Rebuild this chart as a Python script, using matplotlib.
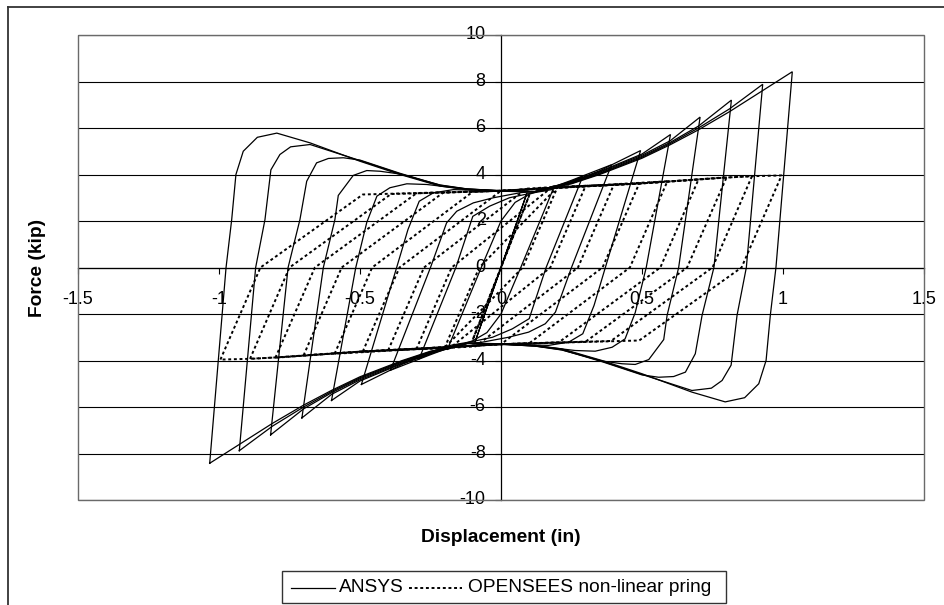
import numpy as np
import matplotlib
matplotlib.use("Agg")
import matplotlib.pyplot as plt
import matplotlib.transforms as mtransforms
from matplotlib.lines import Line2D
from matplotlib.patches import Rectangle

plt.rcParams['font.family'] = ['Liberation Sans', 'DejaVu Sans']
plt.rcParams['axes.unicode_minus'] = False

# Axis ticks and labels
x_ticks = [-1.5, -1.0, -0.5, 0.0, 0.5, 1.0, 1.5]
x_tick_labels = ['-1.5', '-1', '-0.5', '0', '0.5', '1', '1.5']
y_ticks = [-10, -8, -6, -4, -2, 0, 2, 4, 6, 8, 10]
y_tick_labels = ['-10', '-8', '-6', '-4', '-2', '0', '2', '4', '6', '8', '10']

series_names = ['ANSYS', 'OPENSEES non-linear pring']

# ANSYS: rising branch of each cycle (negative peak -> positive peak), in, kip.
# The falling branch is the point-symmetric image of the rising one.
ansys_up_x = [
    [-0.092, 0.092],
    [-0.19, -0.07, 0.0, 0.05, 0.10, 0.19],
    [-0.29, -0.16, -0.10, -0.04, 0.03, 0.10, 0.18, 0.29],
    [-0.392, -0.25, -0.193, -0.157, -0.098, -0.027, 0.07, 0.15, 0.25, 0.392],
    [-0.495, -0.37, -0.33, -0.29, -0.24, -0.169, -0.10, 0.0, 0.12, 0.25, 0.35, 0.495],
    [-0.601, -0.515, -0.476, -0.44, -0.394, -0.334, -0.263, -0.20, -0.12, 0.0, 0.12,
     0.25, 0.35, 0.50, 0.601],
    [-0.706, -0.63, -0.589, -0.577, -0.524, -0.476, -0.429, -0.358, -0.216, -0.12, 0.0,
     0.12, 0.25, 0.35, 0.50, 0.60, 0.706],
    [-0.817, -0.755, -0.713, -0.689, -0.654, -0.612, -0.559, -0.50, -0.358, -0.216,
     -0.12, 0.0, 0.12, 0.25, 0.35, 0.50, 0.60, 0.70, 0.817],
    [-0.928, -0.87, -0.837, -0.816, -0.784, -0.746, -0.677, -0.50, -0.358, -0.216,
     -0.12, 0.0, 0.12, 0.25, 0.35, 0.50, 0.60, 0.70, 0.81, 0.928],
    [-1.033, -0.975, -0.955, -0.94, -0.914, -0.864, -0.795, -0.677, -0.50, -0.358,
     -0.216, -0.12, 0.0, 0.12, 0.25, 0.35, 0.50, 0.60, 0.70, 0.81, 1.033],
]
ansys_up_f = [
    [-3.2, 3.2],
    [-3.52, 0.0, 2.0, 2.8, 3.15, 3.52],
    [-3.92, 0.0, 2.2, 2.64, 3.0, 3.18, 3.35, 3.92],
    [-4.42, 0.0, 1.92, 2.42, 2.78, 3.0, 3.22, 3.3, 3.75, 4.42],
    [-5.03, 0.0, 1.63, 2.85, 3.21, 3.35, 3.33, 3.3, 3.27, 3.7, 4.16, 5.03],
    [-5.72, 0.0, 1.94, 3.07, 3.43, 3.6, 3.57, 3.48, 3.38, 3.3, 3.26, 3.68, 4.13, 4.88, 5.72],
    [-6.47, 0.0, 2.06, 3.1, 3.96, 4.17, 4.14, 4.02, 3.55, 3.38, 3.3, 3.26, 3.66, 4.1,
     4.83, 5.45, 6.47],
    [-7.2, 0.0, 2.06, 3.71, 4.5, 4.69, 4.72, 4.62, 4.05, 3.54, 3.37, 3.3, 3.26, 3.64,
     4.06, 4.78, 5.38, 6.08, 7.2],
    [-7.88, 0.0, 2.06, 4.2, 4.86, 5.19, 5.29, 4.6, 4.03, 3.52, 3.36, 3.29, 3.26, 3.62,
     4.03, 4.74, 5.33, 6.0, 6.82, 7.88],
    [-8.42, 0.0, 2.06, 4.0, 5.0, 5.6, 5.78, 5.36, 4.57, 4.0, 3.5, 3.35, 3.28, 3.25, 3.6,
     4.0, 4.7, 5.28, 5.92, 6.7, 8.42],
]

# OPENSEES: rising branch of each cycle (elastic unloading, pinched reloading,
# then along the yield plateau), in, kip.
ops_up_x = [
    [-0.10, 0.10],
    [-0.20, -0.077, 0.20],
    [-0.30, -0.175, 0.18, 0.30],
    [-0.40, -0.273, 0.09, 0.20, 0.40],
    [-0.49, -0.36, 0.0, 0.30, 0.49],
    [-0.59, -0.457, -0.10, 0.0, 0.30, 0.59],
    [-0.70, -0.565, -0.205, 0.0, 0.50, 0.70],
    [-0.80, -0.66, -0.30, 0.0, 0.50, 0.80],
    [-0.89, -0.75, -0.39, 0.0, 0.50, 0.80, 0.89],
    [-0.995, -0.853, -0.49, 0.0, 0.50, 0.80, 0.90, 0.995],
]
ops_up_f = [
    [-3.1, 3.1],
    [-3.45, 0.0, 3.45],
    [-3.51, 0.0, 3.45, 3.51],
    [-3.56, 0.0, 3.39, 3.47, 3.56],
    [-3.61, 0.0, 3.3, 3.51, 3.61],
    [-3.71, 0.0, 3.26, 3.3, 3.51, 3.71],
    [-3.78, 0.0, 3.22, 3.3, 3.62, 3.78],
    [-3.88, 0.0, 3.19, 3.3, 3.62, 3.88],
    [-3.93, 0.0, 3.16, 3.3, 3.62, 3.87, 3.93],
    [-3.96, 0.0, 3.14, 3.3, 3.62, 3.87, 3.93, 3.96],
]

W, H = 944, 605
fig = plt.figure(figsize=(W / 100, H / 100), dpi=100)
fig.patch.set_facecolor('white')

# plot area in pixels: left 78, right 924, top 35, bottom 500
ax = fig.add_axes([78 / W, (H - 500) / H, 846 / W, 465 / H])
ax.set_xlim(-1.5, 1.5)
ax.set_ylim(-10, 10)

solid_style = dict(color='black', lw=0.9, solid_joinstyle='miter')
dot_style = dict(color='black', lw=1.4, linestyle=(0, (1.5, 1.4)))


def closed_loop(up_x, up_f):
    ux = np.asarray(up_x, float)
    uf = np.asarray(up_f, float)
    return np.concatenate([ux, -ux]), np.concatenate([uf, -uf])


for ux, uf in zip(ansys_up_x, ansys_up_f):
    lx, lf = closed_loop(ux, uf)
    ax.plot(lx, lf, zorder=3, **solid_style)

for ux, uf in zip(ops_up_x, ops_up_f):
    lx, lf = closed_loop(ux, uf)
    ax.plot(lx, lf, zorder=4, **dot_style)

# axes crossing at the origin
for side in ('top', 'right'):
    ax.spines[side].set_visible(False)
ax.spines['left'].set_position(('data', 0))
ax.spines['bottom'].set_position(('data', 0))
ax.spines['left'].set_linewidth(0.9)
ax.spines['bottom'].set_linewidth(0.9)

ax.set_xticks(x_ticks)
ax.set_xticklabels(x_tick_labels)
ax.set_yticks(y_ticks)
ax.set_yticklabels(y_tick_labels)
ax.tick_params(axis='x', direction='out', length=4, width=0.8, pad=13, labelsize=13)
ax.tick_params(axis='y', direction='out', length=4, width=0.8, pad=7, labelsize=13)

# lift the value labels a touch so the minus signs sit just above the gridlines
lift = mtransforms.ScaledTranslation(0, 1.6 / 72, fig.dpi_scale_trans)
for lab in ax.get_yticklabels():
    lab.set_transform(lab.get_transform() + lift)

ax.yaxis.grid(True, color='black', lw=0.8)
ax.set_axisbelow(True)

# plot-area frame
ax.add_patch(Rectangle((0, 0), 1, 1, transform=ax.transAxes, fill=False,
                       edgecolor='#6a6a6a', lw=1.0, zorder=5, clip_on=False))

# axis titles
fig.text(37 / W, 1 - 268 / H, 'Force (kip)', rotation=90, ha='center', va='center',
         fontsize=13.8, fontweight='bold')
fig.text(501 / W, 1 - 538 / H, 'Displacement (in)', ha='center', va='center',
         fontsize=13.8, fontweight='bold')

# chart-area frame (left and top edges inside the canvas)
fig.add_artist(Line2D([8 / W, 8 / W], [0, 1 - 7 / H], transform=fig.transFigure,
                      color='#333333', lw=1.3))
fig.add_artist(Line2D([8 / W, 1], [1 - 7 / H, 1 - 7 / H], transform=fig.transFigure,
                      color='#333333', lw=1.3))

# legend
lx0, lx1, ly0, ly1 = 282, 726, 571, 603
fig.add_artist(Rectangle((lx0 / W, 1 - ly1 / H), (lx1 - lx0) / W, (ly1 - ly0) / H,
                         transform=fig.transFigure, fill=False, edgecolor='#333333',
                         lw=1.0))
ly = 1 - 588 / H
fig.add_artist(Line2D([291 / W, 335 / W], [ly, ly], transform=fig.transFigure,
                      **solid_style))
fig.text(339 / W, ly, series_names[0], ha='left', va='center', fontsize=13.8)
fig.add_artist(Line2D([409 / W, 462 / W], [ly, ly], transform=fig.transFigure,
                      **dot_style))
fig.text(468 / W, ly, series_names[1], ha='left', va='center', fontsize=13.8)

fig.savefig('out.png', dpi=100, facecolor='white')
